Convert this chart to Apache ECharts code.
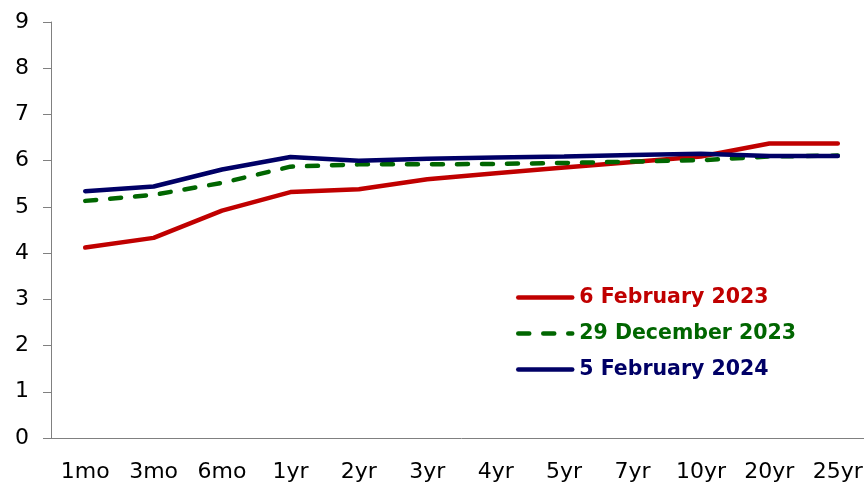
<!DOCTYPE html>
<html><head><meta charset="utf-8">
<script src="https://cdn.jsdelivr.net/npm/echarts@6/dist/echarts.min.js"></script>
<style>html,body{margin:0;padding:0;background:#fff;overflow:hidden}#c{width:872px;height:483px}</style>
</head><body><div id="c"></div>
<script>
const categories = ['1mo','3mo','6mo','1yr','2yr','3yr','4yr','5yr','7yr','10yr','20yr','25yr'];
const feb2023 = [4.12, 4.33, 4.92, 5.32, 5.38, 5.60, 5.73, 5.85, 5.97, 6.09, 6.37, 6.37];
const dec2023 = [5.13, 5.26, 5.52, 5.87, 5.92, 5.92, 5.93, 5.95, 5.98, 6.01, 6.09, 6.11];
const feb2024 = [5.34, 5.44, 5.81, 6.08, 6.00, 6.04, 6.07, 6.09, 6.12, 6.15, 6.10, 6.10];
const yTicks = [0,1,2,3,4,5,6,7,8,9];
const names = ['6 February 2023','29 December 2023','5 February 2024'];
const colors = ['#C00000','#006600','#000066'];
const font = 'DejaVu Sans';
const chart = echarts.init(document.getElementById('c'));
chart.setOption({
  animation:false,
  grid:{left:51, top:22, bottom:45, right:0},
  legend:{
    orient:'vertical', left:516, top:287, padding:0, itemWidth:54, itemHeight:10, itemGap:15,
    textStyle:{fontFamily:font, fontWeight:'bold', fontSize:20.5, padding:[0,0,0,2]},
    itemStyle:{opacity:0},
    lineStyle:{width:4.5},
    data: names.map((n,i)=>({name:n, textStyle:{color:colors[i]}}))
  },
  xAxis:{
    type:'category', data:categories, boundaryGap:true,
    axisLine:{lineStyle:{color:'#808080', width:1}},
    axisTick:{alignWithLabel:true, length:7, lineStyle:{color:'#808080'}},
    axisLabel:{fontFamily:font, fontSize:22, color:'#000', margin:23, interval:0}
  },
  yAxis:{
    type:'value', min:0, max:9, interval:1,
    splitLine:{show:false},
    axisLine:{show:true, lineStyle:{color:'#808080', width:1}},
    axisTick:{show:true, length:8, lineStyle:{color:'#808080'}},
    axisLabel:{fontFamily:font, fontSize:22, color:'#000', margin:22,
      formatter:v=>yTicks.includes(v)?String(v):''}
  },
  series:[
    {name:names[0], type:'line', data:feb2023, symbol:'none', lineStyle:{color:colors[0], width:4.5, cap:'round'}, itemStyle:{color:colors[0]}},
    {name:names[1], type:'line', data:dec2023, symbol:'none', lineStyle:{color:colors[1], width:4.5, type:[11,14], cap:'round'}, itemStyle:{color:colors[1]}},
    {name:names[2], type:'line', data:feb2024, symbol:'none', lineStyle:{color:colors[2], width:4.5, cap:'round'}, itemStyle:{color:colors[2]}}
  ]
});
</script></body></html>
